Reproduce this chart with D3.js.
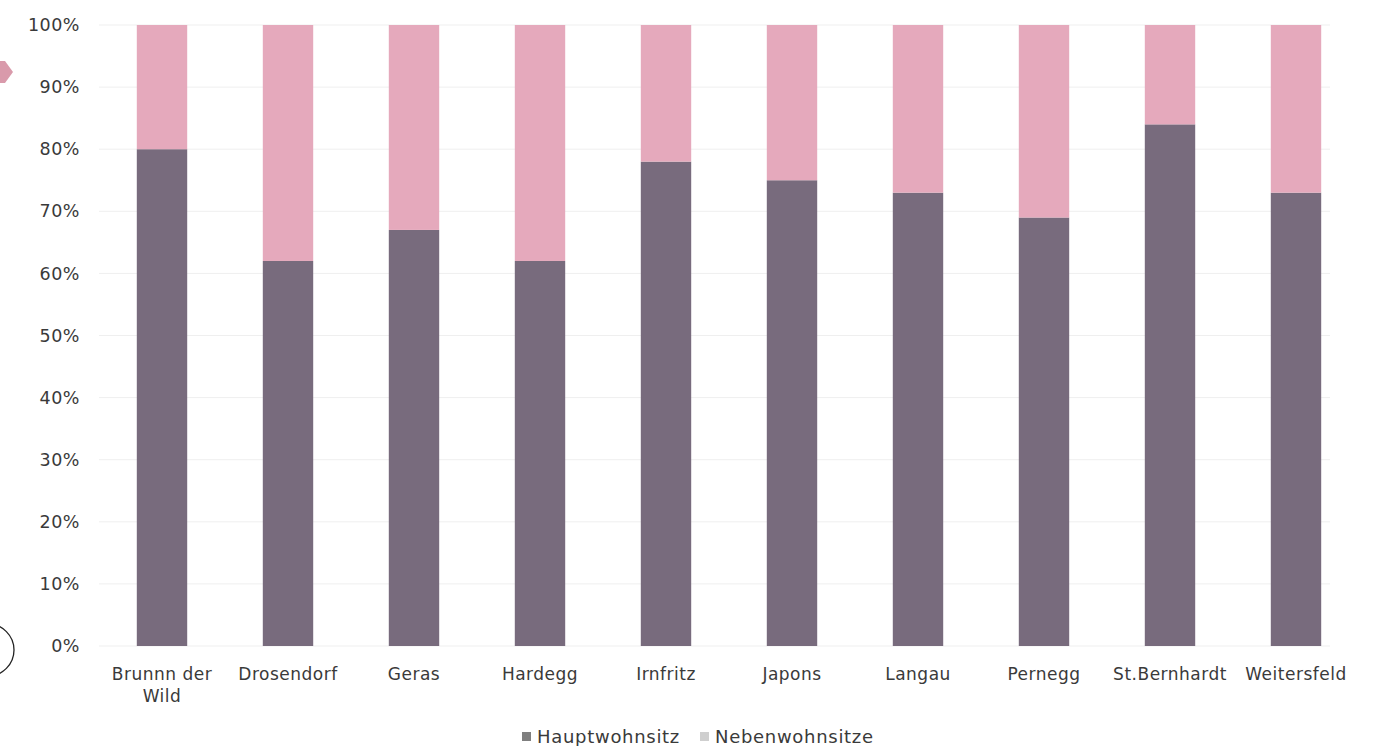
<!DOCTYPE html>
<html><head><meta charset="utf-8">
<script src="https://cdn.jsdelivr.net/npm/d3@7"></script>
<style>body{margin:0;background:#fff;}svg{display:block;font-family:"DejaVu Sans",sans-serif;}</style>
</head><body><svg id="c" width="1379" height="746"></svg>
<script>
const categories = ["Brunnn der Wild","Drosendorf","Geras","Hardegg","Irnfritz","Japons","Langau","Pernegg","St.Bernhardt","Weitersfeld"];
const hauptwohnsitz = [80,62,67,62,78,75,73,69,84,73];
const nebenwohnsitze = [20,38,33,38,22,25,27,31,16,27];
const seriesNames = ["Hauptwohnsitz","Nebenwohnsitze"];
const yTicks = [0,10,20,30,40,50,60,70,80,90,100];

const svg = d3.select("#c");
const x = d3.scaleBand().domain(categories).range([99,1359]).paddingInner(0.6).paddingOuter(0.3);
const y = d3.scaleLinear().domain([0,100]).range([646,25]);
const colors = ["#786b7d","#e5a9bc"];
const legendColors = ["#7f7f7f","#cfcfcf"];
const textColor = "#3a3a3a";
const fontFam = "DejaVu Sans, sans-serif";

// gridlines
svg.append("g").selectAll("line").data(yTicks).join("line")
  .attr("x1",99).attr("x2",1330).attr("y1",d=>y(d)).attr("y2",d=>y(d))
  .attr("stroke","#efefef").attr("stroke-width",1);

const data = categories.map((c,i)=>({c, h:hauptwohnsitz[i], n:nebenwohnsitze[i]}));
const stack = d3.stack().keys(["h","n"])(data);
svg.append("g").selectAll("g").data(stack).join("g").attr("fill",(d,i)=>colors[i])
  .selectAll("rect").data(d=>d).join("rect")
  .attr("x",d=>x(d.data.c)).attr("width",x.bandwidth())
  .attr("y",d=>y(d[1])).attr("height",d=>y(d[0])-y(d[1]));

// y axis
const ya = svg.append("g").attr("transform","translate(80,0)")
  .call(d3.axisLeft(y).tickValues(yTicks).tickFormat(d=>d+"%").tickSize(0).tickPadding(0));
ya.select(".domain").remove();
ya.selectAll("text").attr("font-size",17.5).attr("fill",textColor).attr("font-family",fontFam)
  .attr("letter-spacing","0.5px");

// x axis labels
const xa = svg.append("g").attr("transform","translate(0,646)")
  .call(d3.axisBottom(x).tickSize(0).tickPadding(0));
xa.select(".domain").remove();
xa.selectAll("text").remove();
xa.selectAll(".tick").each(function(d){
  const g = d3.select(this);
  const lines = d==="Brunnn der Wild" ? ["Brunnn der","Wild"] : [d];
  lines.forEach((l,k)=>g.append("text").text(l).attr("y",34+k*22).attr("text-anchor","middle")
    .attr("font-size",17).attr("letter-spacing","0.5px").attr("fill",textColor).attr("font-family",fontFam));
});

// legend
const lg = svg.append("g");
const lx = [522,700];
seriesNames.forEach((s,i)=>{
  lg.append("rect").attr("x",lx[i]).attr("y",732).attr("width",9).attr("height",9).attr("fill",legendColors[i]);
  lg.append("text").text(s).attr("x",lx[i]+15).attr("y",743).attr("font-size",18)
    .attr("letter-spacing","0.7px").attr("fill",textColor).attr("font-family",fontFam);
});

// decorative slide artifacts
svg.append("path").attr("d","M0,61 L5,61 L13,72 L5,83 L0,83 Z").attr("fill","#d99aab");
svg.append("circle").attr("cx",-12).attr("cy",650).attr("r",26).attr("fill","none").attr("stroke","#222").attr("stroke-width",1.3);
</script></body></html>
